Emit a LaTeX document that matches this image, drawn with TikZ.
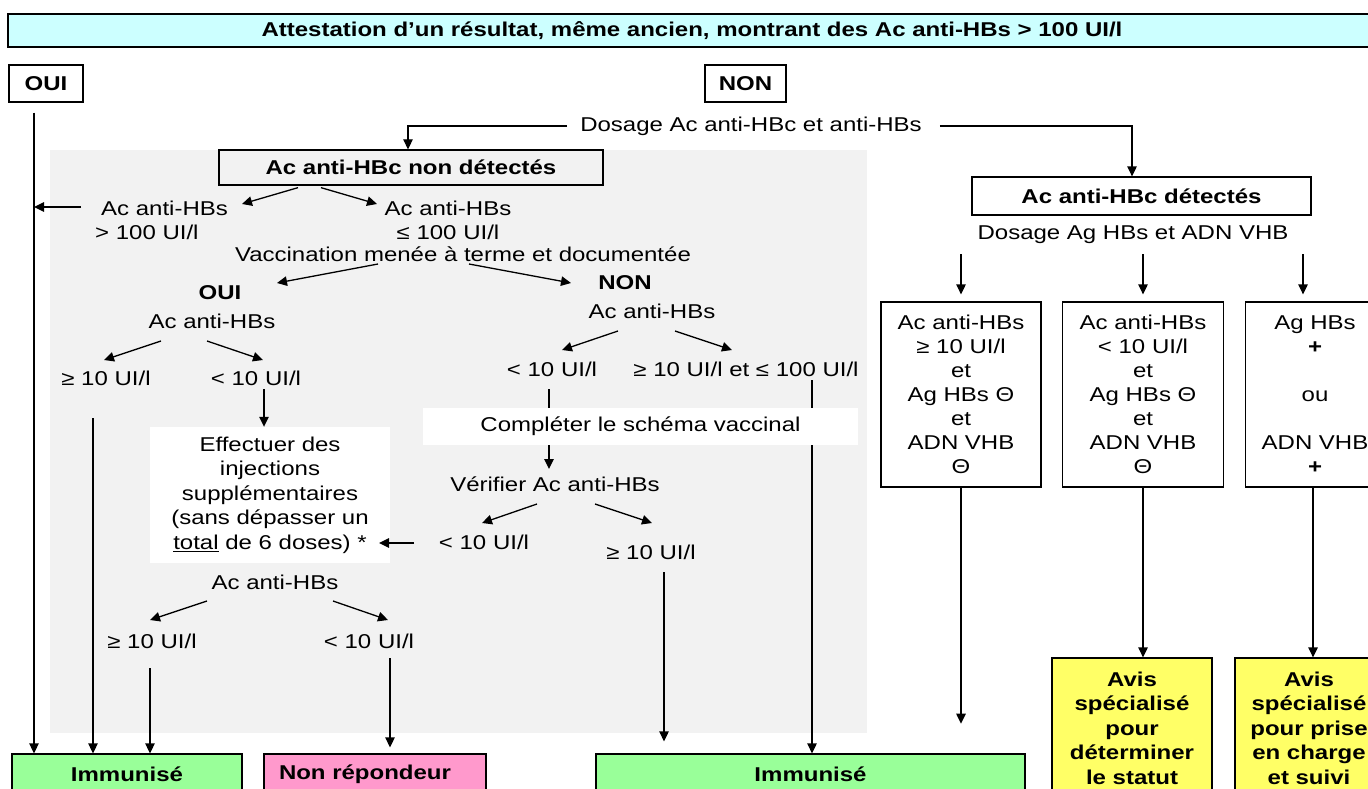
\documentclass[tikz,border=0pt]{standalone}
\usepackage{fontspec}
\setmainfont{Liberation Sans}[FakeStretch=1.2]
\usetikzlibrary{arrows.meta,calc}
\definecolor{bannerc}{HTML}{CCFFFF}
\definecolor{greenc}{HTML}{99FF99}
\definecolor{pinkc}{HTML}{FF99CC}
\definecolor{yellowc}{HTML}{FFFF66}
\definecolor{grayc}{HTML}{F2F2F2}
\pgfdeclarelayer{bg}
\pgfdeclarelayer{ln}
\pgfsetlayers{bg,ln,main}
\begin{document}
\begin{tikzpicture}[x=1pt,y=-1pt,
  every node/.style={font=\fontsize{20}{24}\selectfont, inner sep=0pt},
  bf/.style={font=\fontsize{20}{24}\selectfont\bfseries},
  lbl/.style={text height=15pt, text depth=4pt},
  box/.style={draw, line width=1.3pt, inner sep=0pt, align=center},
  arr/.style={line width=1.3pt, -{Triangle[length=10pt,width=9.5pt]}},
]
\useasboundingbox (0,0) rectangle (1368,789);
\begin{pgfonlayer}{bg}
  \fill[white] (0,0) rectangle (1368,789);
  \fill[grayc] (50,150) rectangle (867,733);
\end{pgfonlayer}
\clip (0,0) rectangle (1368,789);

% ---------- nodes ----------
\node[box, bf, fill=bannerc, line width=1.6pt, minimum width=1368pt, minimum height=33pt] (title) at (692,30.5) {Attestation d’un résultat, même ancien, montrant des Ac anti-HBs > 100 UI/l};
\node[box, bf, minimum width=74pt, minimum height=37pt] (oui) at (46,83.5) {OUI};
\node[box, bf, minimum width=81pt, minimum height=37pt] (non) at (745.5,83.5) {NON};
\node[lbl] (dosage) at (751,126) {Dosage Ac anti-HBc et anti-HBs};
\node[box, bf, minimum width=384pt, minimum height=35pt] (acnon) at (411,167.5) {Ac anti-HBc non détectés};
\node[align=left, anchor=west] (hbsA) at (95,220.5) {\hspace*{6pt}Ac anti-HBs\\> 100 UI/l};
\node[align=center] (hbsB) at (448,220) {Ac anti-HBs\\≤ 100 UI/l};
\node[lbl] (vacc) at (463,256) {Vaccination menée à terme et documentée};
\node[lbl, bf] (ouiB) at (220,294) {OUI};
\node[lbl, bf] (nonB) at (625,284) {NON};
\node[lbl] (hbsC) at (212,323) {Ac anti-HBs};
\node[lbl] (geC) at (106,380) {≥ 10 UI/l};
\node[lbl] (ltC) at (256,380) {< 10 UI/l};
\node[fill=white, minimum width=240pt, minimum height=136pt, align=center, font=\fontsize{20}{24.5}\selectfont] (effect) at (270,495) {Effectuer des\\injections\\supplémentaires\\(sans dépasser un\\\underline{total} de 6 doses) *};
\node[lbl] (hbsD) at (652,313) {Ac anti-HBs};
\node[lbl] (ltD) at (552,371) {< 10 UI/l};
\node[lbl] (geD) at (746,371) {≥ 10 UI/l et ≤ 100 UI/l};
\node[fill=white, minimum width=435pt, minimum height=37pt] (compl) at (640.5,426.5) {Compléter le schéma vaccinal};
\node[lbl] (verif) at (555,486) {Vérifier Ac anti-HBs};
\node[lbl] (ltE) at (484,544) {< 10 UI/l};
\node[lbl] (geE) at (651,554) {≥ 10 UI/l};
\node[lbl] (hbsF) at (275,584) {Ac anti-HBs};
\node[lbl] (geF) at (152,643) {≥ 10 UI/l};
\node[lbl] (ltF) at (369,643) {< 10 UI/l};
\node[box, bf, fill=greenc, minimum width=230pt, minimum height=40pt] (immL) at (127,774) {Immunisé};
\node[box, bf, fill=pinkc, minimum height=40pt, text width=192pt, inner xsep=15pt, align=left] (nonrep) at (375,774) {Non répondeur};
\node[box, bf, fill=greenc, minimum width=429pt, minimum height=40pt] (immR) at (810.5,774) {Immunisé};
\node[box, bf, minimum width=339pt, minimum height=38pt] (acdet) at (1141.5,196) {Ac anti-HBc détectés};
\node[lbl] (dosage2) at (1133,234) {Dosage Ag HBs et ADN VHB};
\node[box, minimum width=160pt, minimum height=185pt] (r1) at (961,394.5) {Ac anti-HBs\\≥ 10 UI/l\\et\\Ag HBs Θ\\et\\ADN VHB\\Θ};
\node[box, minimum width=161pt, minimum height=185pt] (r2) at (1143,394.5) {Ac anti-HBs\\< 10 UI/l\\et\\Ag HBs Θ\\et\\ADN VHB\\Θ};
\node[box, minimum width=139pt, minimum height=185pt] (r3) at (1315,394.5) {Ag HBs\\\textbf{+}\\~\\ou\\~\\ADN VHB\\\textbf{+}};
\node[box, fill=yellowc, minimum width=160pt, minimum height=140pt, font=\fontsize{20}{24.5}\selectfont\bfseries] (y1) at (1132,728) {Avis\\spécialisé\\pour\\déterminer\\le statut};
\node[box, fill=yellowc, minimum width=148pt, minimum height=140pt, font=\fontsize{20}{24.5}\selectfont\bfseries] (y2) at (1309,728) {Avis\\spécialisé\\pour prise\\en charge\\et suivi};

% ---------- connectors ----------
\draw[arr] ([xshift=-13pt]dosage.west) -| ([xshift=-3pt]acnon.north);
\draw[arr] ([xshift=18pt]dosage.east) -| ([xshift=-9.5pt]acdet.north);
\coordinate (o1) at ([shift={(-12,10)}]oui.south);
\draw[arr] (o1) -- (o1 |- immL.north);
\coordinate (a1) at ([shift={(-14,-13.5)}]hbsA.west);
\draw[arr] (a1) -- (a1 -| o1);
\draw[arr] ([shift={(-113,2)}]acnon.south) -- ([shift={(147,-16.5)}]hbsA.west);
\draw[arr] ([shift={(-90,2)}]acnon.south) -- ([shift={(-71,-16)}]hbsB.center);
\draw[arr] ([shift={(-85,8)}]vacc.center) -- ([shift={(57,-11)}]ouiB.center);
\draw[arr] ([shift={(6,8)}]vacc.center) -- ([shift={(-54,-1)}]nonB.center);
\draw[arr] ([shift={(-51,18)}]hbsC.center) -- ([shift={(-2,-20)}]geC.center);
\draw[arr] ([shift={(-5,18)}]hbsC.center) -- ([shift={(7,-20)}]ltC.center);
\draw[arr] ([shift={(8,9)}]ltC.center) -- ([xshift=-6pt]effect.north);
\coordinate (g1) at ([shift={(-13,38)}]geC.center);
\draw[arr] (g1) -- (g1 |- immL.north);
\draw[arr] ([shift={(-34,18)}]hbsD.center) -- ([shift={(10,-21)}]ltD.center);
\draw[arr] ([shift={(23,18)}]hbsD.center) -- ([shift={(-14,-21)}]geD.center);
\begin{pgfonlayer}{ln}
  \draw[arr] ([shift={(-3,18)}]ltD.center) -- ([shift={(-6,-17)}]verif.center);
  \coordinate (g2) at ([shift={(66,9)}]geD.center);
  \draw[arr] (g2) -- (g2 |- immR.north);
\end{pgfonlayer}
\draw[arr] ([shift={(-18,18)}]verif.center) -- ([shift={(-2,-21)}]ltE.center);
\draw[arr] ([shift={(40,18)}]verif.center) -- ([shift={(1,-31)}]geE.center);
\draw[arr] ([shift={(-70,-1)}]ltE.center) -- ([shift={(109,48)}]effect.center);
\coordinate (g3) at ([shift={(13,18)}]geE.center);
\draw[arr] (g3) -- ($(g3 |- immR.north)+(0,-12)$);
\draw[arr] ([shift={(-68,17)}]hbsF.center) -- ([shift={(-2,-23)}]geF.center);
\draw[arr] ([shift={(58,17)}]hbsF.center) -- ([shift={(19,-23)}]ltF.center);
\coordinate (g4) at ([shift={(-2,25)}]geF.center);
\draw[arr] (g4) -- (g4 |- immL.north);
\coordinate (g5) at ([shift={(21,15)}]ltF.center);
\draw[arr] (g5) -- ($(g5 |- nonrep.north)+(0,-6)$);
\draw[arr] ($(r1.north |- dosage2.south)+(0,10.5)$) -- ($(r1.north)+(0,-7)$);
\draw[arr] ($(r2.north |- dosage2.south)+(0,10.5)$) -- ($(r2.north)+(0,-7)$);
\draw[arr] ($(r3.north |- dosage2.south)+(-12,10.5)$) -- ($(r3.north)+(-12,-7)$);
\coordinate (e1) at ($(r1.south)+(0,236)$);
\draw[arr] (r1.south) -- (e1);
\draw[arr] (r2.south) -- (r2.south |- y1.north);
\draw[arr] ($(r3.south)+(-2,0)$) -- ($(r3.south |- y2.north)+(-2,0)$);
\end{tikzpicture}
\end{document}
